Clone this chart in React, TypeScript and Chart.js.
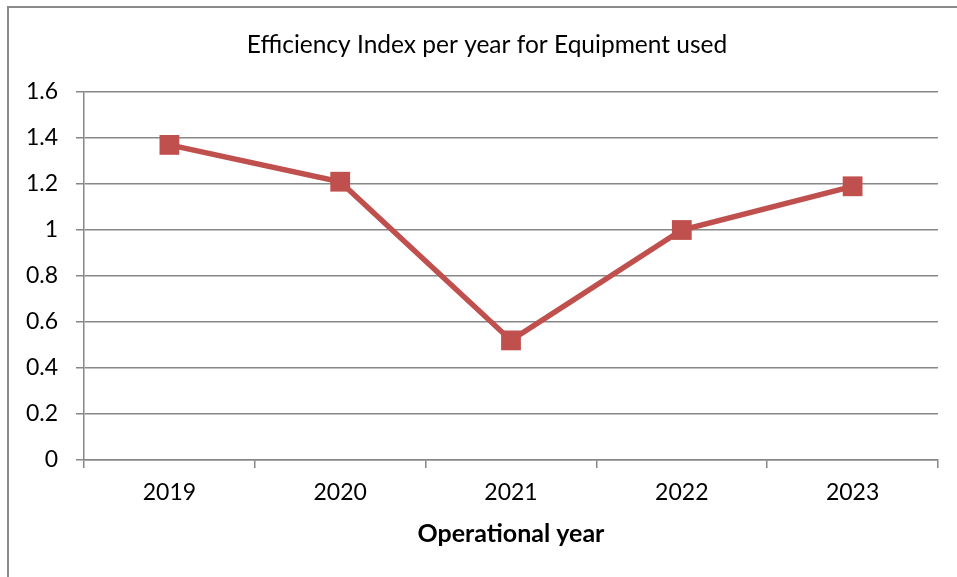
import React, { useEffect, useRef } from "react";
import { Chart, registerables } from "chart.js";

Chart.register(...registerables);

const years: string[] = ["2019", "2020", "2021", "2022", "2023"];
const efficiency: number[] = [1.37, 1.21, 0.52, 1.0, 1.19];
const yTicks: number[] = [0, 0.2, 0.4, 0.6, 0.8, 1, 1.2, 1.4, 1.6];

const FONT = "Lato, 'Open Sans', sans-serif";
const GRID = "#878787";
const RED = "#C0504D";

const CANVAS_W = 957;
const CANVAS_H = 577;
// Left edge of the title's box, so the title is centred over the framed area.
const TITLE_LEFT = 36;

const titleShift = {
  id: "titleShift",
  afterLayout(chart: any) {
    if (chart.titleBlock) chart.titleBlock.left = TITLE_LEFT;
  },
};

export default function App() {
  const ref = useRef<HTMLCanvasElement | null>(null);

  useEffect(() => {
    if (!ref.current) return;
    const chart = new Chart(ref.current, {
      type: "line",
      data: {
        labels: years,
        datasets: [
          {
            label: "Efficiency Index",
            data: efficiency,
            borderColor: RED,
            backgroundColor: RED,
            borderWidth: 5.5,
            pointStyle: "rect",
            pointRadius: 14,
            pointHoverRadius: 14,
            pointBorderWidth: 0,
            tension: 0,
          },
        ],
      },
      plugins: [titleShift],
      options: {
        animation: false,
        responsive: false,
        layout: { padding: { left: 0, right: 19, top: 0, bottom: 0 } },
        plugins: {
          legend: { display: false },
          tooltip: { enabled: false },
          title: {
            display: true,
            text: "Efficiency Index per year for Equipment used",
            color: "#000",
            font: { family: FONT, size: 24.5, weight: "normal" },
            padding: { top: 30, bottom: 32.6 },
          },
        },
        scales: {
          x: {
            type: "category",
            offset: true,
            afterFit: (s: any) => {
              s.height = 117;
            },
            grid: {
              offset: true,
              drawOnChartArea: false,
              drawTicks: true,
              tickLength: 8,
              color: GRID,
              lineWidth: 1.5,
            },
            border: { color: GRID, width: 1.5 },
            ticks: {
              color: "#000",
              padding: 11,
              font: { family: FONT, size: 23 },
              maxRotation: 0,
            },
            title: {
              display: true,
              text: "Operational year",
              color: "#000",
              font: { family: FONT, size: 25, weight: "bold" },
              padding: { top: 0, bottom: 28 },
            },
          },
          y: {
            min: 0,
            max: 1.6,
            afterFit: (s: any) => {
              s.width = 84;
            },
            afterBuildTicks: (s: any) => {
              s.ticks = yTicks.map((v) => ({ value: v }));
            },
            grid: {
              color: GRID,
              lineWidth: 1.5,
              tickLength: 8,
            },
            border: { color: GRID, width: 1.5 },
            ticks: {
              color: "#000",
              padding: 18,
              font: { family: FONT, size: 23 },
              callback: (v: any) => String(Math.round(Number(v) * 10) / 10),
            },
          },
        },
      },
    });
    return () => chart.destroy();
  }, []);

  return (
    <div style={{ position: "absolute", left: 0, top: 0, width: 957, height: 577, background: "#fff", overflow: "hidden" }}>
      <div
        style={{
          position: "absolute",
          left: 7,
          top: 6,
          width: 980,
          height: 600,
          border: "2px solid #8a8a8a",
          boxSizing: "border-box",
        }}
      />
      <canvas
        ref={ref}
        width={CANVAS_W}
        height={CANVAS_H}
        style={{ position: "absolute", left: 0, top: 0, width: CANVAS_W, height: CANVAS_H }}
      />
    </div>
  );
}
